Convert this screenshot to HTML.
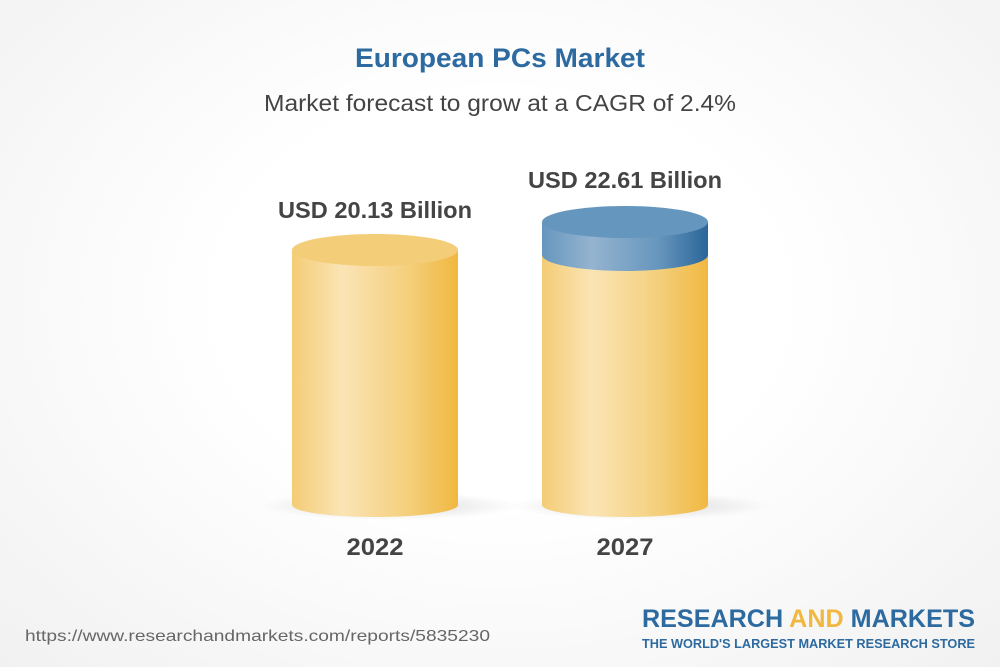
<!DOCTYPE html>
<html><head><style>
body{margin:0;width:1000px;height:667px;overflow:hidden;font-family:"Liberation Sans",sans-serif;background:radial-gradient(ellipse at 50% 45%,#ffffff 40%,#f1f1f1 100%);}
</style></head><body>
<svg width="1000" height="667" style="position:absolute;left:0;top:0">
<defs>
<linearGradient id="g" x1="0" x2="1"><stop offset="0" stop-color="#f3cc75"/><stop offset="0.3" stop-color="#fbe4b5"/><stop offset="0.7" stop-color="#f4cf7c"/><stop offset="1" stop-color="#f0b840"/></linearGradient>
<linearGradient id="b" x1="0" x2="1"><stop offset="0" stop-color="#6696be"/><stop offset="0.3" stop-color="#94b4cf"/><stop offset="0.7" stop-color="#6796bd"/><stop offset="1" stop-color="#2a6699"/></linearGradient>
<radialGradient id="sh"><stop offset="0" stop-color="#000" stop-opacity="0.15"/><stop offset="1" stop-color="#000" stop-opacity="0"/></radialGradient>
</defs>
<text x="500" y="67" text-anchor="middle" font-size="27" font-weight="bold" fill="#2c6aa0" textLength="290" lengthAdjust="spacingAndGlyphs">European PCs Market</text>
<text x="500" y="111" text-anchor="middle" font-size="23" fill="#444" textLength="472" lengthAdjust="spacingAndGlyphs">Market forecast to grow at a CAGR of 2.4%</text>
<ellipse cx="390" cy="506" rx="130" ry="14" fill="url(#sh)"/>
<ellipse cx="640" cy="506" rx="130" ry="14" fill="url(#sh)"/>
<path d="M292 250 V505 A83 12 0 0 0 458 505 V250 Z" fill="url(#g)"/>
<ellipse cx="375" cy="250" rx="83" ry="16" fill="#f4cd78"/>
<path d="M542 222 V505 A83 12 0 0 0 708 505 V222 Z" fill="url(#g)"/>
<path d="M542 222 V255 A83 16 0 0 0 708 255 V222 Z" fill="url(#b)"/>
<ellipse cx="625" cy="222" rx="83" ry="16" fill="#6596bd"/>
<text x="375" y="218" text-anchor="middle" font-size="23" font-weight="bold" fill="#444" textLength="194" lengthAdjust="spacingAndGlyphs">USD 20.13 Billion</text>
<text x="625" y="188" text-anchor="middle" font-size="23" font-weight="bold" fill="#444" textLength="194" lengthAdjust="spacingAndGlyphs">USD 22.61 Billion</text>
<text x="375" y="555" text-anchor="middle" font-size="24" font-weight="bold" fill="#444" textLength="57" lengthAdjust="spacingAndGlyphs">2022</text>
<text x="625" y="555" text-anchor="middle" font-size="24" font-weight="bold" fill="#444" textLength="57" lengthAdjust="spacingAndGlyphs">2027</text>
<text x="25" y="641" font-size="16" fill="#666" textLength="465" lengthAdjust="spacingAndGlyphs">https://www.researchandmarkets.com/reports/5835230</text>
<text x="975" y="627" text-anchor="end" font-size="25" font-weight="bold" fill="#2c6aa0" textLength="333" lengthAdjust="spacingAndGlyphs">RESEARCH <tspan fill="#f0b840">AND</tspan> MARKETS</text>
<text x="975" y="648" text-anchor="end" font-size="12.5" font-weight="bold" fill="#2c6aa0" textLength="333" lengthAdjust="spacingAndGlyphs">THE WORLD'S LARGEST MARKET RESEARCH STORE</text>
</svg>
</body></html>
